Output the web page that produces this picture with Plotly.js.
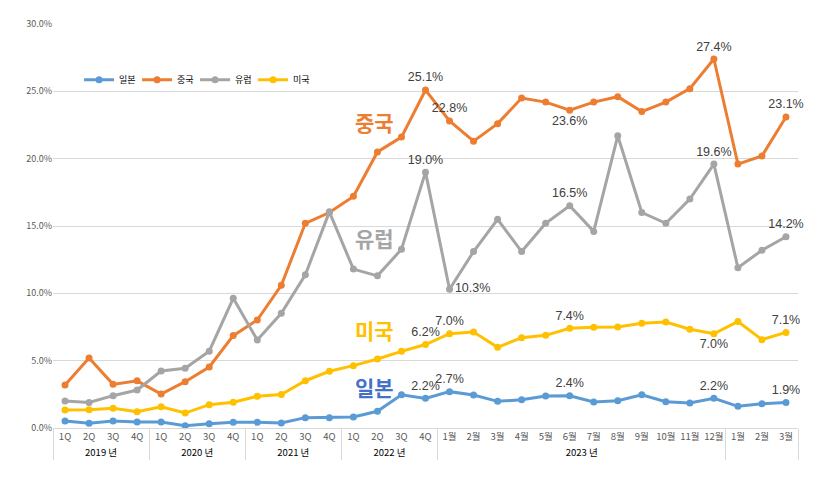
<!DOCTYPE html>
<html>
<head>
<meta charset="utf-8">
<script src="https://cdn.plot.ly/plotly-3.0.1.min.js"></script>
<style>html,body{margin:0;padding:0;background:#fff;}#chart{width:835px;height:486px;}</style>
</head>
<body>
<div id="chart"></div>
<script>
// ---- data ----
const yearGroups = ['2019 년', '2020 년', '2021 년', '2022 년', '2023 년', ' '];
const quarterLabels = ['1Q', '2Q', '3Q', '4Q'];
const months2023 = ['1월','2월','3월','4월','5월','6월','7월','8월','9월','10월','11월','12월'];
const months2024 = ['1월','2월','3월'];

const seriesNames = ['일본', '중국', '유럽', '미국'];
const japan  = [0.52,0.35,0.52,0.45, 0.45,0.17,0.32,0.42, 0.42,0.37,0.77,0.77, 0.82,1.24,2.47,2.2,
                2.7,2.45,1.98,2.1,2.38,2.4,1.93,2.03,2.47,1.95,1.86,2.2, 1.61,1.8,1.9];
const china  = [3.2,5.2,3.24,3.5, 2.52,3.44,4.53,6.86, 8.02,10.6,15.2,16.0, 17.2,20.5,21.6,25.1,
                22.8,21.3,22.6,24.5,24.2,23.6,24.2,24.6,23.5,24.2,25.2,27.4, 19.6,20.2,23.1];
const europe = [2.0,1.9,2.4,2.82, 4.23,4.43,5.7,9.63, 6.53,8.52,11.38,16.05, 11.8,11.3,13.27,19.0,
                10.3,13.1,15.5,13.1,15.2,16.5,14.6,21.7,16.0,15.2,17.0,19.6, 11.9,13.2,14.2];
const usa    = [1.34,1.36,1.46,1.21, 1.58,1.11,1.73,1.91, 2.35,2.48,3.51,4.21, 4.63,5.12,5.69,6.2,
                7.0,7.13,5.99,6.71,6.88,7.4,7.48,7.5,7.77,7.87,7.33,7.0, 7.9,6.56,7.1];
const labeledPoints = [15, 16, 21, 27, 30];

// ---- build multicategory x ----
const outerName = g => '<span style="fill:#000000">' + g + '</span>';
const xOuter = [], xInner = [];
for (let g = 0; g < 4; g++) quarterLabels.forEach(q => { xOuter.push(outerName(yearGroups[g])); xInner.push(q); });
months2023.forEach(m => { xOuter.push(outerName(yearGroups[4])); xInner.push(m); });
months2024.forEach(m => { xOuter.push(yearGroups[5]); xInner.push(m); });

const colors = ['#5B9BD5', '#ED7D31', '#A5A5A5', '#FFC000'];
const values = [japan, china, europe, usa];
const posOverride = [
  {},
  {21: 'bottom center'},
  {16: 'middle right'},
  {27: 'bottom center'}
];

const traces = values.map((vals, s) => {
  const text = vals.map((v, i) => labeledPoints.includes(i) ? v.toFixed(1) + '%' : '');
  const pos = vals.map((v, i) => posOverride[s][i] || 'top center');
  return {
    type: 'scatter',
    mode: 'lines+markers+text',
    name: seriesNames[s],
    x: [xOuter, xInner],
    y: vals,
    text: text,
    textposition: pos,
    textfont: {family: 'Liberation Sans Narrow, Liberation Sans, sans-serif', size: 12.5, color: '#404040'},
    line: {color: colors[s], width: 3},
    marker: {color: colors[s], size: 7},
    cliponaxis: false,
    hoverinfo: 'x+y'
  };
});

const bigLabel = (txt, y, color) => ({
  xref: 'paper', yref: 'paper', x: 0.431, y: y, text: '<b>' + txt + '</b>',
  showarrow: false, xanchor: 'center', yanchor: 'middle',
  font: {family: 'Noto Sans CJK KR', size: 21, color: color}
});

const layout = {
  width: 835, height: 486,
  margin: {l: 53, r: 37, t: 24, b: 58},
  paper_bgcolor: '#ffffff', plot_bgcolor: '#ffffff',
  showlegend: true,
  legend: {
    orientation: 'h', x: 0.035, y: 0.862, xanchor: 'left', yanchor: 'middle',
    font: {family: 'Noto Sans CJK KR', size: 9, color: '#000000'},
    bgcolor: 'rgba(0,0,0,0)', itemwidth: 30, tracegroupgap: 0,
    entrywidth: 13, entrywidthmode: 'pixels'
  },
  xaxis: {
    type: 'multicategory',
    range: [-0.5, 30.5],
    showgrid: false,
    showline: true, linecolor: '#D9D9D9', linewidth: 1,
    ticks: '', tickangle: 0,
    showdividers: true, dividercolor: '#D9D9D9', dividerwidth: 1,
    tickfont: {family: 'Noto Sans CJK KR', size: 9.5, color: '#595959'},
    automargin: false, fixedrange: true
  },
  yaxis: {
    range: [0, 30], dtick: 5, tickformat: '.1f', ticksuffix: '%',
    showgrid: true, gridcolor: '#D9D9D9', gridwidth: 1,
    zeroline: false, showline: false, ticks: '',
    tickfont: {family: 'Noto Sans CJK KR', size: 9, color: '#595959'},
    automargin: false, fixedrange: true
  },
  annotations: [
    bigLabel('중국', 0.757, '#ED7D31'),
    bigLabel('유럽', 0.470, '#A5A5A5'),
    bigLabel('미국', 0.243, '#FFC000'),
    bigLabel('일본', 0.101, '#4472C4')
  ]
};

Plotly.newPlot('chart', traces, layout, {displayModeBar: false, staticPlot: true});
</script>
</body>
</html>
